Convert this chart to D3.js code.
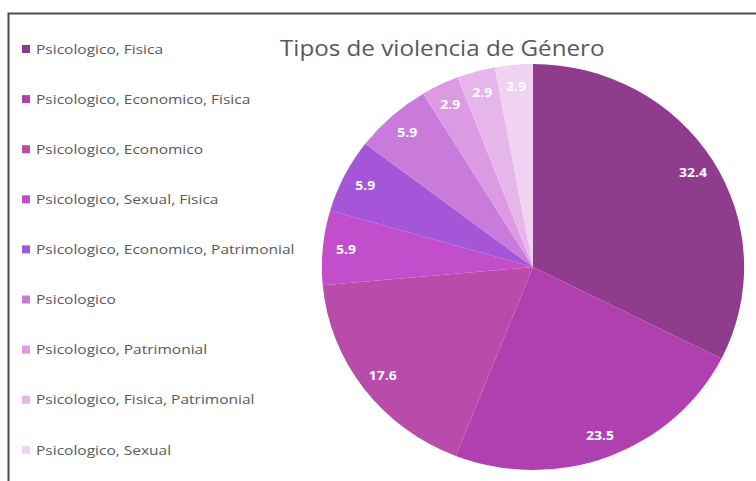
<!DOCTYPE html>
<html>
<head>
<meta charset="utf-8">
<script src="https://cdn.jsdelivr.net/npm/d3@7"></script>
<style>
  body { margin: 0; background: #fff; }
  svg { display: block; }
</style>
</head>
<body>
<div id="chart"></div>
<script>
// Tipos de violencia de Género - pie chart
const categories = [
  "Psicologico, Fisica",
  "Psicologico, Economico, Fisica",
  "Psicologico, Economico",
  "Psicologico, Sexual, Fisica",
  "Psicologico, Economico, Patrimonial",
  "Psicologico",
  "Psicologico, Patrimonial",
  "Psicologico, Fisica, Patrimonial",
  "Psicologico, Sexual"
];
const values = [32.4, 23.5, 17.6, 5.9, 5.9, 5.9, 2.9, 2.9, 2.9];
const colors = [
  "#8f3b8e", "#b03fb0", "#b94bab", "#c24ecb", "#a455d8",
  "#c97bdb", "#dc9ae2", "#e6b6ea", "#f0d2f1"
];
const title = "Tipos de violencia de Género";

const width = 756, height = 481;
const cx = 533, cy = 267, radius = 203, stretch = 1.04;

const svg = d3.select('#chart').append('svg')
  .attr('width', width)
  .attr('height', height);

// frame (cropped at right / bottom)
svg.append('rect')
  .attr('x', 8.5).attr('y', 13.5)
  .attr('width', width + 20).attr('height', height + 20)
  .attr('fill', 'none')
  .attr('stroke', '#4d4d4d')
  .attr('stroke-width', 2);

const color = d3.scaleOrdinal().domain(categories).range(colors);

const pie = d3.pie().sort(null).value(d => d.value);
const arcs = pie(categories.map((c, i) => ({ name: c, value: values[i] })));

const arc = d3.arc().innerRadius(0).outerRadius(radius);
const labelArc = d3.arc().innerRadius(radius * 0.89).outerRadius(radius * 0.89);

const g = svg.append('g')
  .attr('transform', `translate(${cx},${cy}) scale(${stretch},1)`);

g.selectAll('path')
  .data(arcs).enter().append('path')
  .attr('d', arc)
  .attr('fill', d => color(d.data.name));

// value labels, text is a bit wide in the original
svg.append('g')
  .attr('transform', `translate(${cx},${cy})`)
  .selectAll('text')
  .data(arcs).enter().append('text')
  .attr('transform', d => {
    const [x, y] = labelArc.centroid(d);
    return `translate(${x * stretch},${y}) scale(1.12,1)`;
  })
  .attr('text-anchor', 'middle')
  .attr('dy', '.35em')
  .attr('fill', '#fff')
  .style('font-family', 'Open Sans, sans-serif')
  .style('font-weight', 'bold')
  .style('font-size', '12.5px')
  .text(d => d.data.value.toFixed(1));

svg.append('text')
  .attr('transform', 'translate(280,56) scale(1.1,1)')
  .attr('fill', '#595959')
  .style('font-family', 'Open Sans, sans-serif')
  .style('font-size', '22px')
  .text(title);

// legend
const legend = svg.append('g').selectAll('g')
  .data(categories).enter().append('g')
  .attr('transform', (d, i) => `translate(22,${49 + i * 50.1})`);

legend.append('rect')
  .attr('x', 0).attr('y', -4)
  .attr('width', 8).attr('height', 8)
  .attr('fill', d => color(d));

legend.append('text')
  .attr('transform', 'translate(14,0) scale(1.15,1)')
  .attr('dy', '.35em')
  .attr('fill', '#595959')
  .style('font-family', 'Open Sans, sans-serif')
  .style('font-size', '13.5px')
  .text(d => d);
</script>
</body>
</html>
